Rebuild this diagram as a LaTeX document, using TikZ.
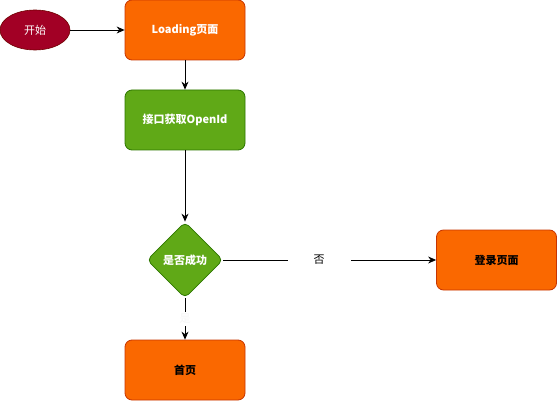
\documentclass[tikz,border=0pt]{standalone}
\usepackage{fontspec}
\setmainfont{Liberation Sans}
\newfontfamily\cjk{Noto Sans CJK SC}
\usetikzlibrary{shapes.geometric,arrows.meta}
\definecolor{startred}{HTML}{A20025}
\definecolor{startborder}{HTML}{6F0000}
\definecolor{orangefill}{HTML}{FA6800}
\definecolor{orangeline}{HTML}{C73500}
\definecolor{greenfill}{HTML}{60A917}
\definecolor{greenline}{HTML}{2D7600}
\tikzset{
  box/.style={rectangle, rounded corners=7pt, minimum width=120pt, minimum height=60pt, line width=0.8pt, font=\cjk\bfseries\fontsize{11}{13}\selectfont, inner sep=0pt},
  orangebox/.style={box, fill=orangefill, draw=orangeline},
  greenbox/.style={box, fill=greenfill, draw=greenline, text=white},
  conn/.style={draw=black, line width=0.8pt, -{Stealth[length=8pt,width=7pt]}},
  lbl/.style={fill=white, font=\cjk\fontsize{11}{13}\selectfont, inner sep=2pt}
}
\begin{document}
\begin{tikzpicture}[x=1pt,y=-1pt]
\useasboundingbox (0,0) rectangle (557,401);
\node[ellipse, fill=startred, draw=startborder, line width=0.6pt, minimum width=70pt, minimum height=40pt, inner sep=0pt, text=white, font=\cjk\fontsize{11}{13}\selectfont] (start) at (35,30) {开始};
\node[orangebox, text=white] (load) at (185,30) {Loading页面};
\node[greenbox] (api) at (185,120) {接口获取OpenId};
\node[diamond, fill=greenfill, draw=greenline, line width=0.8pt, minimum width=76pt, minimum height=76pt, inner sep=0pt, rounded corners=5pt, text=white, font=\cjk\bfseries\fontsize{11}{13}\selectfont] (ok) at (185,260) {是否成功};
\node[orangebox] (login) at (496.5,260) {登录页面};
\node[orangebox] (home) at (185,370) {首页};
\draw[conn] (start) -- (load);
\draw[conn] (load) -- (api);
\draw[conn] (api) -- (ok);
\draw[conn] (ok) -- node[lbl, pos=0.45, inner xsep=26pt] {否} (login);
\draw[conn] (ok) -- node[lbl, text=black!4] {是} (home);
\end{tikzpicture}
\end{document}
